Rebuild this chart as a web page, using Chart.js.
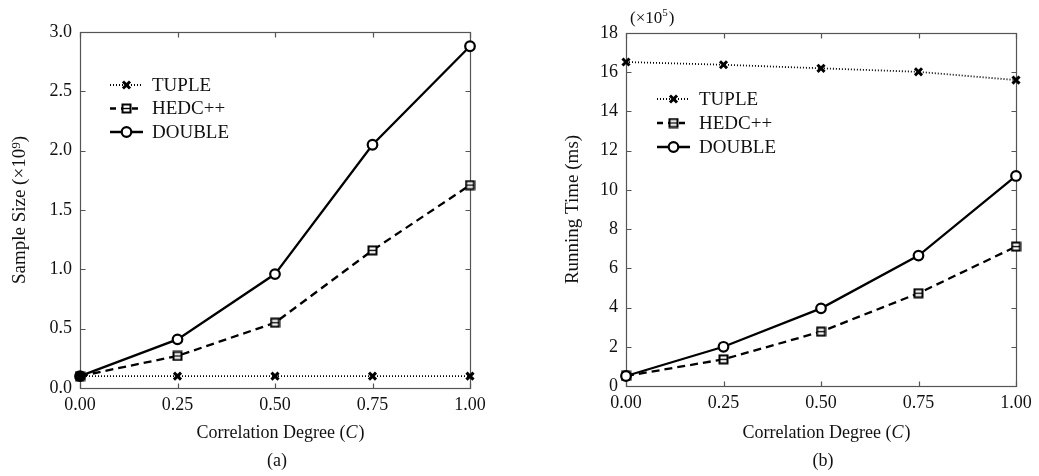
<!DOCTYPE html>
<html>
<head>
<meta charset="utf-8">
<script src="https://cdn.jsdelivr.net/npm/chart.js@4.4.0/dist/chart.umd.min.js"></script>
<style>
    html, body { margin: 0; padding: 0; background: #fff; }
    #wrap { position: relative; width: 1039px; height: 476px; }
    .box { position: absolute; top: 0; height: 476px; }
    #boxA { left: 0; width: 520px; }
    #boxB { left: 520px; width: 519px; }
</style>
</head>
<body>
<div id="wrap">
    <div class="box" id="boxA"><canvas id="chartA"></canvas></div>
    <div class="box" id="boxB"><canvas id="chartB"></canvas></div>
</div>
<script>
// correlation degree C on the x axis
const degrees = [0, 0.25, 0.5, 0.75, 1.0];
const seriesNames = ["TUPLE", "HEDC++", "DOUBLE"];

// (a) sample size, x10^9
const sizeTuple = [0.10, 0.10, 0.10, 0.10, 0.10];
const sizeHedc = [0.10, 0.27, 0.55, 1.16, 1.71];
const sizeDouble = [0.10, 0.41, 0.96, 2.05, 2.88];

// (b) running time, x10^5 ms
const timeTuple = [16.52, 16.38, 16.20, 16.02, 15.60];
const timeHedc = [0.51, 1.36, 2.77, 4.73, 7.11];
const timeDouble = [0.51, 2.00, 3.96, 6.65, 10.71];

const serif = "'Liberation Serif', 'Times New Roman', serif";
const ink = "#000";

// square marker with a bar through it
const squareMark = (() => {
    const c = document.createElement("canvas");
    c.width = 11;
    c.height = 11;
    const g = c.getContext("2d");
    g.fillStyle = "#fff";
    g.fillRect(1.5, 1.5, 8, 8);
    g.strokeStyle = ink;
    g.lineWidth = 2;
    g.strokeRect(1.5, 1.5, 8, 8);
    g.lineWidth = 1.4;
    g.beginPath();
    g.moveTo(2, 5.5);
    g.lineTo(9, 5.5);
    g.stroke();
    return c;
})();

const toPoints = values => values.map((v, i) => ({ x: degrees[i], y: v }));

const makeDatasets = (tuple, hedc, dbl, firstFill) => [
    {
        label: seriesNames[0],
        data: toPoints(tuple),
        order: 2,
        borderColor: ink,
        borderWidth: 1.8,
        borderDash: [1, 2],
        pointStyle: "crossRot",
        pointRadius: 5,
        pointBorderWidth: 3,
        pointBackgroundColor: "#fff",
        pointBorderColor: ink,
        clip: false
    },
    {
        label: seriesNames[1],
        data: toPoints(hedc),
        order: 1,
        borderColor: ink,
        borderWidth: 2.3,
        borderDash: [8, 5],
        pointStyle: squareMark,
        pointRadius: 5,
        pointBackgroundColor: "#fff",
        pointBorderColor: ink,
        clip: false
    },
    {
        label: seriesNames[2],
        data: toPoints(dbl),
        order: 0,
        borderColor: ink,
        borderWidth: 2.3,
        pointStyle: "circle",
        pointRadius: 4.8,
        pointBorderWidth: 2.2,
        pointBackgroundColor: degrees.map((d, i) => (i === 0 && firstFill ? ink : "#fff")),
        pointBorderColor: ink,
        clip: false
    }
];

const extras = {
    id: "extras",
    beforeDatasetsDraw(chart) {
        const ctx = chart.ctx;
        const { left, right, top, bottom } = chart.chartArea;
        const xs = chart.scales.x, ys = chart.scales.y;
        ctx.save();
        ctx.strokeStyle = "#555";
        ctx.lineWidth = 1.2;
        const l = Math.round(left) + 0.5, t = Math.round(top) + 0.5;
        const r = Math.round(right) + 0.5, b = Math.round(bottom) + 0.5;
        ctx.strokeRect(l, t, r - l, b - t);
        ctx.beginPath();
        xs.ticks.forEach(tk => {
            const px = Math.round(xs.getPixelForValue(tk.value)) + 0.5;
            ctx.moveTo(px, b); ctx.lineTo(px, b - 5);
            ctx.moveTo(px, t); ctx.lineTo(px, t + 5);
        });
        ys.ticks.forEach(tk => {
            const py = Math.round(ys.getPixelForValue(tk.value)) + 0.5;
            ctx.moveTo(l, py); ctx.lineTo(l + 5, py);
            ctx.moveTo(r, py); ctx.lineTo(r - 5, py);
        });
        ctx.stroke();
        ctx.restore();
    },
    afterDraw(chart, args, opts) {
        const ctx = chart.ctx;
        const { left, right, top, bottom } = chart.chartArea;
        const mid = (left + right) / 2;
        ctx.save();
        ctx.fillStyle = "#111";
        ctx.textBaseline = "middle";

        // x axis title with italic C
        const partA = "Correlation Degree (", partC = "C", partE = ")";
        ctx.font = `18px ${serif}`;
        const wA = ctx.measureText(partA).width, wE = ctx.measureText(partE).width;
        ctx.font = `italic 18px ${serif}`;
        const wC = ctx.measureText(partC).width;
        const x = mid + 5 - (wA + wC + wE) / 2;
        const ty = bottom + opts.titleGap;
        ctx.textAlign = "left";
        ctx.font = `18px ${serif}`;
        ctx.fillText(partA, x, ty);
        ctx.font = `italic 18px ${serif}`;
        ctx.fillText(partC, x + wA, ty);
        ctx.font = `18px ${serif}`;
        ctx.fillText(partE, x + wA + wC + 1, ty);

        // caption
        ctx.textAlign = "center";
        ctx.fillText(opts.caption, mid + 2, bottom + opts.captionGap);

        // exponent label above the axis
        if (opts.exponent) {
            let ex = left + 4;
            const ey = top - 14;
            ctx.textAlign = "left";
            ctx.font = `17px ${serif}`;
            ctx.fillText("(\u00d710", ex, ey);
            ex += ctx.measureText("(\u00d710").width;
            ctx.font = `11px ${serif}`;
            ctx.fillText(opts.exponent, ex, ey - 6);
            ex += ctx.measureText(opts.exponent).width + 1;
            ctx.font = `17px ${serif}`;
            ctx.fillText(")", ex, ey);
        }

        // legend: line sample + marker + name
        chart.data.datasets.forEach((ds, i) => {
            const lx = left + opts.legendX;
            const ly = top + opts.legendY + i * opts.legendGap;
            ctx.save();
            ctx.strokeStyle = ds.borderColor;
            ctx.lineWidth = ds.borderWidth;
            ctx.setLineDash(i === 1 ? [6, 5] : ds.borderDash || []);
            ctx.beginPath();
            ctx.moveTo(lx, ly);
            ctx.lineTo(lx + 33, ly);
            ctx.stroke();
            ctx.setLineDash([]);
            ctx.fillStyle = "#fff";
            ctx.strokeStyle = ds.pointBorderColor;
            ctx.lineWidth = ds.pointBorderWidth || 1;
            Chart.helpers.drawPoint(ctx, {
                pointStyle: ds.pointStyle,
                radius: ds.pointRadius,
                rotation: 0,
                borderWidth: ds.pointBorderWidth || 1
            }, lx + 16.5, ly);
            ctx.restore();
            ctx.fillStyle = "#111";
            ctx.textAlign = "left";
            ctx.font = `19px ${serif}`;
            ctx.fillText(ds.label, lx + 42, ly + 1);
        });
        ctx.restore();
    }
};

const makeChart = (canvasId, datasets, cfg) => {
    return new Chart(document.getElementById(canvasId), {
        type: "line",
        data: { datasets },
        plugins: [extras],
        options: {
            responsive: true,
            maintainAspectRatio: false,
            animation: false,
            layout: { padding: cfg.padding },
            elements: { line: { tension: 0 } },
            plugins: {
                legend: { display: false },
                tooltip: { enabled: false },
                extras: cfg.extras
            },
            scales: {
                x: {
                    type: "linear",
                    min: 0,
                    max: 1,
                    grid: { display: false, drawTicks: false },
                    border: { display: false },
                    afterFit: scale => { scale.height = cfg.xHeight; },
                    ticks: {
                        stepSize: 0.25,
                        padding: 6,
                        color: "#111",
                        font: { family: serif, size: 18 },
                        callback: v => v.toFixed(2)
                    }
                },
                y: {
                    min: cfg.yMin,
                    max: cfg.yMax,
                    grid: { display: false, drawTicks: false },
                    border: { display: false },
                    afterFit: scale => { scale.width = cfg.yWidth; },
                    title: {
                        display: true,
                        text: cfg.yTitle,
                        color: "#111",
                        padding: 0,
                        font: { family: serif, size: 19 }
                    },
                    ticks: {
                        stepSize: cfg.yStep,
                        padding: 8,
                        color: "#111",
                        font: { family: serif, size: 18 },
                        callback: cfg.yLabel
                    }
                }
            }
        }
    });
};

makeChart("chartA", makeDatasets(sizeTuple, sizeHedc, sizeDouble, true), {
    padding: { left: 9, right: 50, top: 32, bottom: 0 },
    yWidth: 71,
    xHeight: 88,
    yMin: 0,
    yMax: 3,
    yStep: 0.5,
    yTitle: "Sample Size (\u00d710\u2079)",
    yLabel: v => v.toFixed(1),
    extras: { caption: "(a)", titleGap: 45, captionGap: 73, legendX: 30, legendY: 53, legendGap: 23.5 }
});

makeChart("chartB", makeDatasets(timeTuple, timeHedc, timeDouble, false), {
    padding: { left: 42, right: 23, top: 33, bottom: 0 },
    yWidth: 64,
    xHeight: 90,
    yMin: 0,
    yMax: 18,
    yStep: 2,
    yTitle: "Running Time (ms)",
    yLabel: v => String(v),
    extras: { caption: "(b)", exponent: "5", titleGap: 47, captionGap: 75, legendX: 31, legendY: 66, legendGap: 24 }
});
</script>
</body>
</html>
